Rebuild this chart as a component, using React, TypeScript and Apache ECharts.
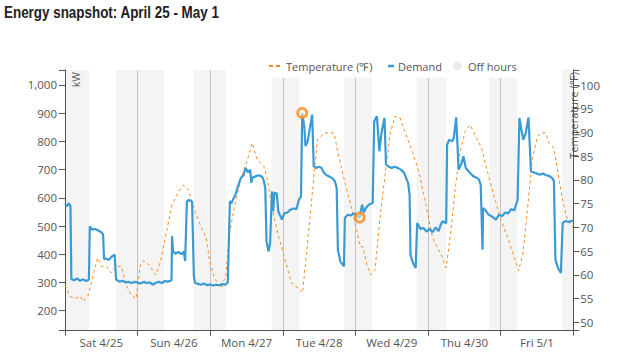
import React, { useEffect, useRef } from "react";
import * as echarts from "echarts";

const dayLabels = ["Sat 4/25", "Sun 4/26", "Mon 4/27", "Tue 4/28", "Wed 4/29", "Thu 4/30", "Fri 5/1"];
const dayLabelHours = [12, 36, 60, 84, 108, 132, 156];
const kwTicks = [200, 300, 400, 500, 600, 700, 800, 900, 1000];
const tempTicks = [50, 55, 60, 65, 70, 75, 80, 85, 90, 95, 100];

// off hours: [start hour, end hour] from Sat 4/25 00:00
const offHours = [
  [0, 8], [16.75, 32.75], [42.5, 53.25], [68.25, 77.5],
  [92.25, 101.5], [116.25, 126], [140.25, 149.5], [164.25, 168],
];

// demand (kW): [hour, value]
const demand = [
  [0, 578], [0.6, 570], [1.2, 580], [1.8, 572], [2.1, 312], [3, 308], [4, 314], [5, 306], [6, 311], [7, 305], [7.9, 310],
  [8.2, 499], [9, 487], [10, 490], [11, 484], [12, 478], [12.6, 470], [12.9, 382], [13.5, 385], [14.5, 380], [15.5, 392], [16.4, 398],
  [16.9, 310], [18, 303], [19, 306], [20, 300], [21, 302], [22, 298], [23, 302], [24, 300], [25, 296], [26, 302], [27, 298], [28, 300],
  [29, 292], [30, 299], [31, 302], [32, 298], [33, 305], [34, 303], [35.2, 308], [35.4, 464], [35.7, 410], [36.5, 402], [37.5, 408],
  [38.5, 400], [39.3, 410], [39.7, 376], [40.3, 588], [41, 592], [42, 586], [42.6, 322], [43, 298], [44, 295], [45, 292], [46, 296],
  [47, 290], [48, 293], [49, 289], [50, 292], [51, 290], [52, 294], [53, 292], [53.8, 300], [54.5, 588], [55, 580], [55.6, 596],
  [56.3, 610], [57, 635], [58.1, 670], [59, 680], [59.7, 706], [60.5, 690], [61.2, 700], [61.6, 653], [62, 672], [63, 676], [64, 680],
  [65, 676], [65.6, 665], [66.2, 635], [66.6, 446], [67.3, 410], [67.8, 440], [68.4, 623], [68.8, 552], [69.2, 618], [70, 615],
  [70.5, 552], [71.7, 523], [72.5, 545], [73.5, 548], [74.5, 558], [75.5, 562], [76.5, 560], [77.3, 593], [78, 605], [78.4, 901],
  [79.1, 850], [79.5, 783], [80.2, 800], [81.7, 895], [82.2, 712], [83, 706], [84, 710], [84.8, 706], [85.5, 690], [86.5, 680],
  [87.5, 675], [88.5, 668], [89.2, 659], [89.8, 635], [90.2, 416], [91, 375], [92.2, 357], [92.5, 529], [93.5, 540], [94.5, 538],
  [95.5, 545], [96.5, 535], [97.4, 530], [98.2, 576], [98.8, 548], [99.5, 565], [100.5, 576], [101.7, 582], [102.2, 871], [103.1, 889],
  [103.9, 765], [104.6, 830], [105.6, 883], [106.1, 718], [107, 710], [108, 706], [109, 710], [110, 706], [111, 700], [112, 690],
  [113.4, 653], [113.9, 611], [114.2, 398], [115, 370], [115.9, 351], [116.4, 511], [117.5, 490], [118.5, 493], [119.5, 480],
  [120.5, 490], [121.5, 478], [122.5, 495], [123.5, 482], [124.2, 505], [124.8, 517], [126, 510], [126.3, 788], [127, 806], [128, 800],
  [128.5, 812], [129.3, 885], [130.1, 700], [131, 720], [131.7, 747], [132.5, 705], [133.9, 688], [135, 676], [136, 672], [136.8, 665],
  [137.4, 647], [138, 416], [138.2, 564], [139, 556], [140, 540], [141, 535], [142.4, 523], [143.5, 540], [144.5, 535], [145.5, 548],
  [146.5, 545], [147.5, 560], [148.5, 555], [149.6, 593], [150.2, 883], [150.8, 845], [151.5, 806], [152.3, 830], [153.2, 885],
  [154, 694], [155, 690], [156, 686], [157, 682], [158, 686], [159, 680], [160, 678], [161, 670], [161.6, 659], [162.1, 381], [163, 350],
  [163.9, 334], [164.5, 511], [165.5, 518], [166.5, 514], [167.5, 519], [168, 515],
];

// temperature (°F): [hour, value]
const temperature = [
  [0, 57.8], [0.7, 56.9], [1.7, 55.5], [3.4, 55.0], [5, 55.5], [6.1, 54.4], [7.7, 55.8], [9.3, 60.0], [10.75, 63.6], [12.1, 61.8],
  [13.7, 61.8], [15.3, 60.4], [16.9, 61.8], [18.6, 61.8], [20.2, 57.9], [21.8, 55.8], [23.5, 55.0], [24.9, 62.1], [26, 63.0],
  [27.8, 62.1], [30, 60.0], [31.6, 62.9], [33.8, 69.9], [35.4, 74.8], [37.6, 77.6], [39.2, 78.9], [40.8, 77.9], [42.9, 73.4],
  [45.1, 69.9], [46.7, 67.8], [47.8, 62.9], [49.4, 59.3], [51.6, 57.2], [53.2, 60.0], [54.3, 68.5], [55.9, 74.1], [58.1, 80.1],
  [60.3, 84.3], [61.9, 87.8], [63.5, 84.3], [65.7, 82.9], [66.8, 80.4], [68.4, 74.1], [70.6, 68.1], [72.7, 63.2], [74.9, 58.3],
  [77.1, 57.2], [78.5, 56.2], [79.8, 64.3], [81.4, 74.8], [82.5, 82.5], [83.5, 88.5], [85.7, 89.9], [88.9, 89.9], [90.6, 84.6],
  [92.7, 79.0], [94.9, 73.7], [96, 70.6], [97.6, 66.0], [98.5, 65.9], [99.8, 62.1], [101.1, 60.0], [102.5, 61.1], [104.1, 72.0],
  [105.8, 81.1], [107.4, 89.5], [109, 93.4], [110.7, 93.1], [112.3, 90.2], [115, 85.7], [117.2, 81.1], [119.3, 74.8], [121.5, 67.8],
  [123.7, 65.0], [124.3, 64.3], [126, 61.5], [127.4, 68.5], [129, 78.3], [130.6, 86.0], [132.3, 90.2], [133.9, 91.6], [135.5, 89.5],
  [137.7, 86.7], [139.9, 81.1], [142, 76.2], [144.2, 71.3], [146.4, 67.8], [148.6, 63.6], [149.9, 60.9], [151.3, 64.3], [152.9, 74.1],
  [154.5, 84.6], [156.2, 89.2], [157.5, 89.9], [158.9, 89.9], [160, 87.8], [161.6, 86.7], [162.7, 82.5], [164.3, 76.2], [165.9, 72.0],
  [167.5, 70.2], [168, 70.0],
];

// highlighted demand points
const highlights = [[78.4, 901], [97.4, 530]];

const BLUE = "#3a9ad3";
const ORANGE = "#f7891f";
const AXIS = "#555";
const FONT = "'Open Sans', sans-serif";

export default function App() {
  const ref = useRef<HTMLDivElement>(null);
  useEffect(() => {
    if (!ref.current) return;
    const chart = echarts.init(ref.current, null, { renderer: "svg" });
    chart.setOption({
      animation: false,
      grid: { left: 65, top: 70, width: 516, height: 260.7 },
      xAxis: {
        type: "value",
        min: 0,
        max: 168,
        interval: 24,
        axisLine: { onZero: false, lineStyle: { color: AXIS } },
        axisTick: { length: 5, lineStyle: { color: AXIS } },
        axisLabel: {
          customValues: dayLabelHours,
          formatter: (v: number) => dayLabels[Math.round((v - 12) / 24)] || "",
          color: AXIS,
          fontFamily: FONT,
          fontSize: 11.5,
          margin: 6,
        },
        splitLine: { show: true, lineStyle: { color: "#cccccc", width: 1 } },
      },
      yAxis: [
        {
          type: "value",
          min: 129,
          max: 1053,
          position: "left",
          axisLine: { show: true, onZero: false, lineStyle: { color: AXIS } },
          axisTick: { show: true, length: 6, customValues: [129, ...kwTicks, 1053], lineStyle: { color: AXIS } },
          axisLabel: {
            customValues: kwTicks,
            formatter: (v: number) => v.toLocaleString("en-US"),
            color: AXIS,
            fontFamily: FONT,
            fontSize: 11.5,
            margin: 8,
          },
          splitLine: { show: false },
        },
        {
          type: "value",
          min: 48.25,
          max: 103.16,
          position: "right",
          axisLine: { show: true, onZero: false, lineStyle: { color: AXIS } },
          axisTick: { show: true, length: 6, customValues: [48.25, ...tempTicks, 103.16], lineStyle: { color: AXIS } },
          axisLabel: {
            customValues: tempTicks,
            color: AXIS,
            fontFamily: FONT,
            fontSize: 11.5,
            margin: 7,
          },
          splitLine: { show: false },
        },
      ],
      series: [
        {
          name: "Temperature (℉)",
          type: "line",
          yAxisIndex: 1,
          data: temperature,
          symbol: "none",
          lineStyle: { color: ORANGE, width: 1, type: [3, 3] },
          z: 3,
          markArea: {
            silent: true,
            itemStyle: { color: "rgba(0,0,0,0.045)" },
            data: offHours.map(([s, e]) => [{ xAxis: s }, { xAxis: e }]),
          },
        },
        {
          name: "Demand",
          type: "line",
          yAxisIndex: 0,
          data: demand,
          symbol: "none",
          lineStyle: { color: BLUE, width: 2.2 },
          z: 4,
        },
        {
          name: "Highlights",
          type: "scatter",
          yAxisIndex: 0,
          data: highlights,
          symbol: "circle",
          symbolSize: 9,
          itemStyle: { color: "rgba(255,255,255,0.6)", borderColor: ORANGE, borderWidth: 3 },
          z: 5,
        },
      ],
      graphic: [
        {
          type: "text", z: 11, x: 4, y: 12, scaleX: 0.79,
          style: { text: "Energy snapshot: April 25 - May 1", fill: "#222", font: "bold 17px 'Liberation Sans', Arial, sans-serif", verticalAlign: "middle" },
        },
        { type: "rect", z: 10, shape: { x: 264, y: 55, width: 262, height: 22.7 }, style: { fill: "#fff" } },
        { type: "line", z: 11, shape: { x1: 269, y1: 66, x2: 280, y2: 66 }, style: { stroke: ORANGE, lineWidth: 2, lineDash: [4, 3] } },
        { type: "text", z: 11, x: 286, y: 66, style: { text: "Temperature (℉)", fill: AXIS, font: `11px ${FONT}`, verticalAlign: "middle" } },
        { type: "line", z: 11, shape: { x1: 388, y1: 66, x2: 394, y2: 66 }, style: { stroke: BLUE, lineWidth: 2.5 } },
        { type: "text", z: 11, x: 398, y: 66, style: { text: "Demand", fill: AXIS, font: `11px ${FONT}`, verticalAlign: "middle" } },
        { type: "circle", z: 11, shape: { cx: 457.5, cy: 66, r: 4.5 }, style: { fill: "#ececec" } },
        { type: "text", z: 11, x: 468, y: 66, style: { text: "Off hours", fill: AXIS, font: `11px ${FONT}`, verticalAlign: "middle" } },
        { type: "text", z: 11, x: 76, y: 72, rotation: Math.PI / 2, style: { text: "kW", fill: AXIS, font: `10.5px ${FONT}`, align: "right", verticalAlign: "middle" } },
        { type: "text", z: 11, x: 573, y: 72, rotation: Math.PI / 2, style: { text: "Temperature (℉)", fill: AXIS, font: `11px ${FONT}`, align: "right", verticalAlign: "middle" } },
      ],
    });
    return () => chart.dispose();
  }, []);
  return <div ref={ref} style={{ position: "absolute", left: 0, top: 0, width: 603, height: 363 }} />;
}
